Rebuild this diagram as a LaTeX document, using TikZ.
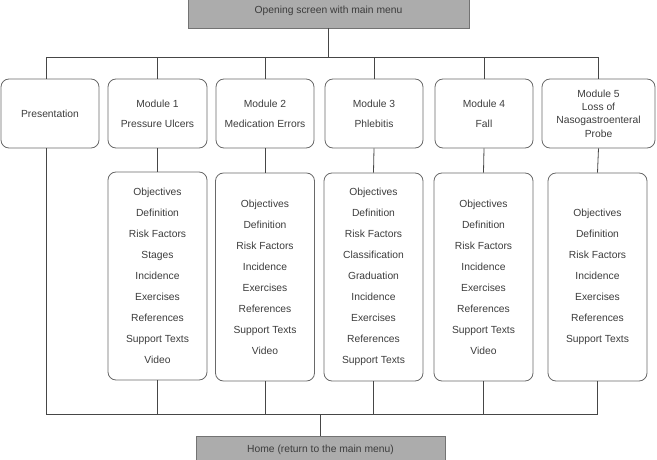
\documentclass[tikz,border=0pt]{standalone}
\usepackage{fontspec}
\setmainfont{Liberation Sans}
\usepackage{tikz}
\usetikzlibrary{calc}

\definecolor{menufill}{RGB}{172,172,172}
\definecolor{menuline}{RGB}{115,115,115}
\definecolor{boxline}{RGB}{105,105,105}
\definecolor{connline}{RGB}{70,70,70}
\definecolor{textgray}{RGB}{60,60,60}

\begin{document}
\begin{tikzpicture}[x=1pt,y=-1pt,
	menubox/.style={draw=menuline, fill=menufill, line width=0.8pt, inner sep=0pt, text=textgray, font=\fontsize{10.3}{12.4}\selectfont},
	modbox/.style={draw=boxline, line width=0.8pt, rounded corners=8pt, minimum height=69pt, inner sep=0pt, align=center, text=textgray, font=\fontsize{10.3}{13.3}\selectfont},
	listbox/.style={draw=boxline, line width=0.8pt, rounded corners=8pt, minimum height=208pt, minimum width=99pt, inner sep=0pt, align=center, text=textgray, font=\fontsize{10.3}{21}\selectfont},
	conn/.style={draw=connline, line width=0.8pt}]
			\clip (0,0) rectangle (657,460);
			\node[menubox, minimum width=281pt, minimum height=34pt] (opening) at (328.5,11) {Opening screen with main menu};
			\node[modbox, minimum width=98pt] (pres) at (50,113.5) {Presentation};
			\node[modbox, minimum width=99pt] (mod1) at (157.5,113.5) {Module 1\\[6.7pt]Pressure Ulcers};
			\node[modbox, minimum width=98pt] (mod2) at (265,113.5) {Module 2\\[6.7pt]Medication Errors};
			\node[modbox, minimum width=98pt] (mod3) at (374,113.5) {Module 3\\[6.7pt]Phlebitis};
			\node[modbox, minimum width=98pt] (mod4) at (484,113.5) {Module 4\\[6.7pt]Fall};
			\node[modbox, minimum width=113pt] (mod5) at (598.5,113.5) {Module 5\\Loss of\\Nasogastroenteral\\Probe};
			\node[listbox] (list1) at (157.5,276) {Objectives\\Definition\\Risk Factors\\Stages\\Incidence\\Exercises\\References\\Support Texts\\Video};
			\node[listbox] (list2) at (265,277) {Objectives\\Definition\\Risk Factors\\Incidence\\Exercises\\References\\Support Texts\\Video};
			\node[listbox] (list3) at (373.5,277) {Objectives\\Definition\\Risk Factors\\Classification\\Graduation\\Incidence\\Exercises\\References\\Support Texts};
			\node[listbox] (list4) at (483.5,277) {Objectives\\Definition\\Risk Factors\\Incidence\\Exercises\\References\\Support Texts\\Video};
			\node[listbox] (list5) at (597.5,277) {Objectives\\Definition\\Risk Factors\\Incidence\\Exercises\\References\\Support Texts};
			\node[menubox, minimum width=249pt, minimum height=28pt] (home) at (320.5,450) {Home (return to the main menu)};
			% branching lines
			\coordinate (topbus) at (0,57);
			\coordinate (botbus) at (0,414);
			\coordinate (presup) at ($(pres.north)+(-4,0)$);
			\coordinate (presdown) at ($(pres.south)+(-4,0)$);
			\draw[conn] (opening.south) -- (opening.south |- topbus);
			\draw[conn] (presup |- topbus) -- (mod5.north |- topbus);
			\draw[conn] (presup) -- (presup |- topbus);
			\foreach \m in {mod1,mod2,mod3,mod4,mod5}
				\draw[conn] (\m.north) -- (\m.north |- topbus);
			\foreach \m/\l in {mod1/list1,mod2/list2,mod3/list3,mod4/list4,mod5/list5}
				\draw[conn] (\m.south) -- (\l.north);
			\draw[conn] (presdown) -- (presdown |- botbus);
			\foreach \l in {list1,list2,list3,list4,list5}
				\draw[conn] (\l.south) -- (\l.south |- botbus);
			\draw[conn] (presdown |- botbus) -- (list5.south |- botbus);
			\draw[conn] (home.north) -- (home.north |- botbus);
		\end{tikzpicture}
\end{document}
